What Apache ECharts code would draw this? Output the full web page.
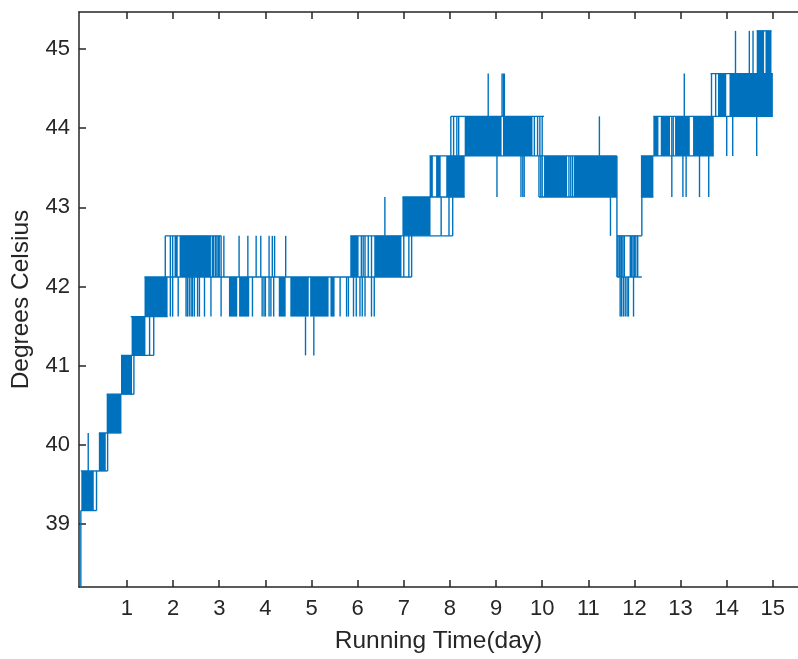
<!DOCTYPE html>
<html>
<head>
<meta charset="utf-8">
<script src="https://cdn.jsdelivr.net/npm/echarts@6/dist/echarts.min.js"></script>
<style>
  html, body { margin: 0; padding: 0; background: #fff; }
  #chart { width: 798px; height: 659px; }
</style>
</head>
<body>
<div id="chart"></div>
<script>
const xTicks = [1, 2, 3, 4, 5, 6, 7, 8, 9, 10, 11, 12, 13, 14, 15]
const yTicks = [39, 40, 41, 42, 43, 44, 45]

// stretches where the reading flips back and forth so fast it reads as solid: [tStart, tEnd, low, high]
const denseBlocks = [
  [0.01, 0.28, 39.17, 39.67],
  [0.39, 0.54, 39.67, 40.15],
  [0.56, 0.88, 40.15, 40.64],
  [0.87, 1.11, 40.64, 41.13],
  [1.10, 1.40, 41.13, 41.62],
  [1.38, 1.88, 41.62, 42.12],
  [2.03, 2.10, 42.12, 42.64],
  [2.14, 2.82, 42.12, 42.64],
  [3.21, 3.39, 41.62, 42.12],
  [3.43, 3.65, 41.62, 42.12],
  [4.29, 4.44, 41.62, 42.12],
  [4.54, 4.94, 41.62, 42.12],
  [4.97, 5.37, 41.62, 42.12],
  [5.41, 5.50, 41.62, 42.12],
  [5.84, 6.02, 42.12, 42.64],
  [6.36, 6.95, 42.12, 42.64],
  [6.97, 7.58, 42.64, 43.13],
  [7.56, 7.63, 43.13, 43.65],
  [7.70, 7.80, 43.13, 43.65],
  [7.92, 8.32, 43.13, 43.65],
  [8.32, 9.12, 43.65, 44.15],
  [9.15, 9.79, 43.65, 44.15],
  [10.04, 10.54, 43.13, 43.65],
  [10.69, 11.62, 43.13, 43.65],
  [12.14, 12.41, 43.13, 43.65],
  [12.41, 12.52, 43.65, 44.15],
  [12.57, 12.77, 43.65, 44.15],
  [12.88, 13.20, 43.65, 44.15],
  [13.27, 13.72, 43.65, 44.15],
  [13.81, 13.99, 44.15, 44.69],
  [14.06, 15.00, 44.15, 44.69],
  [14.65, 14.81, 44.69, 45.23],
  [14.84, 14.97, 44.69, 45.23]
]

// single jumps between two levels: [t, low, high]
const swings = [
  [0.00, 38.20, 39.17],
  [0.16, 39.67, 40.15], [0.34, 39.17, 39.67], [0.58, 39.67, 40.15],
  [1.15, 40.64, 41.13], [1.49, 41.13, 41.62], [1.58, 41.13, 41.62],
  [1.94, 41.62, 42.12], [1.99, 41.62, 42.12], [2.11, 41.62, 42.12], [2.28, 41.62, 42.12],
  [2.31, 41.62, 42.12], [2.35, 41.62, 42.12], [2.39, 41.62, 42.12], [2.42, 41.62, 42.12],
  [2.46, 41.62, 42.12], [2.53, 41.62, 42.12], [2.57, 41.62, 42.12], [2.68, 41.62, 42.12],
  [2.82, 41.62, 42.12], [3.04, 41.62, 42.12],
  [3.72, 41.62, 42.12], [3.93, 41.62, 42.12], [3.97, 41.62, 42.12], [4.00, 41.62, 42.12],
  [4.08, 41.62, 42.12], [4.12, 41.62, 42.12], [4.18, 41.62, 42.12], [5.62, 41.62, 42.12],
  [5.76, 41.62, 42.12], [5.80, 41.62, 42.12], [5.91, 41.62, 42.12], [5.97, 41.62, 42.12],
  [6.05, 41.62, 42.12], [6.10, 41.62, 42.12], [6.16, 41.62, 42.12], [6.30, 41.62, 42.12],
  [6.36, 41.62, 42.12],
  [4.87, 41.13, 41.62], [5.05, 41.13, 41.62],
  [1.83, 42.12, 42.64], [1.94, 42.12, 42.64], [1.99, 42.12, 42.64], [2.85, 42.12, 42.64],
  [2.88, 42.12, 42.64], [2.92, 42.12, 42.64], [2.95, 42.12, 42.64], [2.98, 42.12, 42.64],
  [3.00, 42.12, 42.64], [3.04, 42.12, 42.64],
  [3.10, 42.12, 42.64], [3.43, 42.12, 42.64], [3.62, 42.12, 42.64], [3.80, 42.12, 42.64],
  [3.90, 42.12, 42.64], [4.08, 42.12, 42.64], [4.15, 42.12, 42.64], [4.20, 42.12, 42.64],
  [4.44, 42.12, 42.64], [6.08, 42.12, 42.64], [6.12, 42.12, 42.64], [6.16, 42.12, 42.64],
  [6.23, 42.12, 42.64], [6.30, 42.12, 42.64],
  [6.59, 42.64, 43.13],
  [7.00, 42.12, 42.64], [7.11, 42.12, 42.64], [7.17, 42.12, 42.64],
  [7.81, 42.64, 43.13], [7.98, 42.64, 43.13], [8.06, 42.64, 43.13],
  [8.02, 43.65, 44.15], [8.08, 43.65, 44.15], [8.15, 43.65, 44.15], [8.19, 43.65, 44.15],
  [9.83, 43.65, 44.15], [9.90, 43.65, 44.15], [9.95, 43.65, 44.15], [10.00, 43.65, 44.15],
  [8.83, 44.15, 44.69], [9.13, 44.15, 44.69], [9.16, 44.15, 44.69], [9.18, 44.15, 44.69],
  [9.02, 43.13, 43.65], [9.54, 43.13, 43.65], [9.58, 43.13, 43.65], [9.61, 43.13, 43.65],
  [9.93, 43.13, 43.65], [9.97, 43.13, 43.65], [10.00, 43.13, 43.65], [10.58, 43.13, 43.65],
  [10.62, 43.13, 43.65], [10.66, 43.13, 43.65],
  [11.24, 43.65, 44.15], [11.48, 42.64, 43.13], [11.62, 42.12, 43.65],
  [11.64, 42.12, 42.64], [11.67, 42.12, 42.64], [11.69, 42.12, 42.64], [11.72, 42.12, 42.64],
  [11.75, 42.12, 42.64], [11.78, 42.12, 42.64], [11.91, 42.12, 42.64], [11.94, 42.12, 42.64],
  [11.97, 42.12, 42.64], [12.00, 42.12, 42.64], [12.03, 42.12, 42.64], [12.07, 42.12, 42.64],
  [11.69, 41.62, 42.12], [11.72, 41.62, 42.12], [11.76, 41.62, 42.12], [11.80, 41.62, 42.12],
  [11.84, 41.62, 42.12], [11.87, 41.62, 42.12], [11.98, 41.62, 42.12],
  [12.16, 42.64, 43.13],
  [12.81, 43.13, 43.65], [13.05, 43.13, 43.65], [13.12, 43.13, 43.65], [13.41, 43.13, 43.65],
  [13.61, 43.13, 43.65],
  [12.81, 43.65, 44.15], [12.84, 43.65, 44.15],
  [13.08, 44.15, 44.69], [13.67, 44.15, 44.69], [13.76, 44.15, 44.69],
  [14.00, 43.65, 44.15], [14.13, 43.65, 44.15], [14.65, 43.65, 44.15],
  [14.19, 44.69, 45.23], [14.49, 44.69, 45.23], [14.57, 44.69, 45.23]
]

// level held over a stretch of time: [tStart, tEnd, level]
const holds = [
  [0.00, 0.34, 39.17],
  [0.00, 0.58, 39.67],
  [0.39, 0.88, 40.15],
  [0.56, 1.15, 40.64],
  [0.87, 1.58, 41.13],
  [1.08, 1.88, 41.62],
  [1.38, 7.17, 42.12],
  [1.83, 3.04, 42.64],
  [5.84, 8.06, 42.64],
  [6.97, 8.32, 43.13],
  [7.56, 11.62, 43.65],
  [8.02, 10.04, 44.15],
  [9.93, 11.62, 43.13],
  [11.62, 12.16, 42.64],
  [11.62, 12.16, 42.12],
  [12.14, 12.41, 43.13],
  [12.14, 13.72, 43.65],
  [12.41, 15.00, 44.15],
  [13.65, 15.00, 44.69],
  [14.65, 14.97, 45.23]
]

const blue = '#0072BD'
const ink = '#262626'
const font = '"Liberation Sans", Arial, sans-serif'

function blockItem(params, api) {
  const a = api.coord([api.value(0), api.value(3)])
  const b = api.coord([api.value(1), api.value(2)])
  return {
    type: 'rect',
    shape: { x: a[0], y: a[1], width: Math.max(b[0] - a[0], 1), height: b[1] - a[1] },
    style: { fill: blue }
  }
}

function swingItem(params, api) {
  const a = api.coord([api.value(0), api.value(1)])
  const b = api.coord([api.value(0), api.value(2)])
  return {
    type: 'line',
    shape: { x1: a[0], y1: a[1], x2: b[0], y2: b[1] },
    style: { stroke: blue, lineWidth: 1.4 }
  }
}

function holdItem(params, api) {
  const a = api.coord([api.value(0), api.value(2)])
  const b = api.coord([api.value(1), api.value(2)])
  return {
    type: 'line',
    shape: { x1: a[0], y1: a[1], x2: b[0], y2: b[1] },
    style: { stroke: blue, lineWidth: 1.4 }
  }
}

const axisLine = { show: true, onZero: false, lineStyle: { color: ink, width: 1.5 } }
const tickStyle = { color: ink, width: 1.5 }

const chart = echarts.init(document.getElementById('chart'))
chart.setOption({
  animation: false,
  backgroundColor: '#fff',
  grid: { left: 79, top: 12, right: -4, bottom: 72 },
  xAxis: [
    {
      type: 'value', position: 'bottom', min: -0.04, max: 15.545,
      axisLine: axisLine,
      axisTick: { inside: true, length: 7, customValues: xTicks, lineStyle: tickStyle },
      axisLabel: { customValues: xTicks, color: ink, fontSize: 22, fontFamily: font, margin: 11 },
      splitLine: { show: false },
      name: 'Running Time(day)', nameLocation: 'middle', nameGap: 42,
      nameTextStyle: { color: ink, fontSize: 24.5, fontFamily: font }
    },
    {
      type: 'value', position: 'top', min: -0.04, max: 15.545,
      axisLine: axisLine,
      axisTick: { inside: true, length: 7, customValues: xTicks, lineStyle: tickStyle },
      axisLabel: { show: false },
      splitLine: { show: false }
    }
  ],
  yAxis: {
    type: 'value', min: 38.204, max: 45.468,
    axisLine: axisLine,
    axisTick: { inside: true, length: 7, customValues: yTicks, lineStyle: tickStyle },
    axisLabel: { customValues: yTicks, color: ink, fontSize: 22, fontFamily: font, margin: 9 },
    splitLine: { show: false },
    name: 'Degrees Celsius', nameLocation: 'middle', nameGap: 45,
    nameTextStyle: { color: ink, fontSize: 24.5, fontFamily: font }
  },
  series: [
    { type: 'custom', silent: true, data: denseBlocks, renderItem: blockItem, encode: { x: [0, 1], y: [2, 3] } },
    { type: 'custom', silent: true, data: holds, renderItem: holdItem, encode: { x: [0, 1], y: 2 } },
    { type: 'custom', silent: true, data: swings, renderItem: swingItem, encode: { x: 0, y: [1, 2] } }
  ]
})
</script>
</body>
</html>
